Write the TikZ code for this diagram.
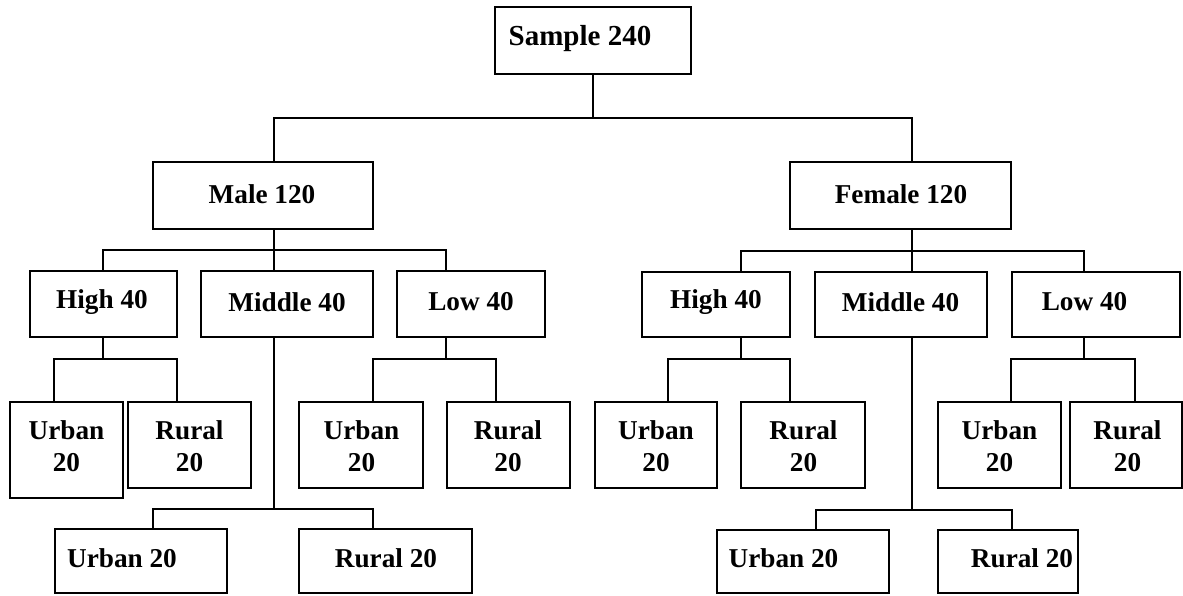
\documentclass[tikz,border=0pt]{standalone}
\usepackage{fontspec}
\setmainfont{Liberation Serif}
\tikzset{
  catbox/.style={draw, line width=0.9pt, inner sep=0pt},
  cattext/.style={align=center, inner sep=0pt, font=\fontsize{15.5}{18}\selectfont\bfseries},
  tie/.style={line width=0.7pt}
}
\begin{document}
\begin{tikzpicture}[x=0.02cm, y=-0.02cm]
\useasboundingbox (0,0) rectangle (1183,595);
% box from (#2,#3) to (#4,#5), tie line at x=#6, text at (#7,#8)
\newcommand{\catbox}[9]{
  \node[catbox, minimum width={(#4-#2)*0.02cm}, minimum height={(#5-#3)*0.02cm}]
    (#1) at ({(#2+#4)/2},{(#3+#5)/2}) {};
  \coordinate (#1-n) at (#6,#3);
  \coordinate (#1-s) at (#6,#5);
  \node[cattext] (#1-t) at (#7,#8) {#9};
}
% parent, left child, right child, height of the bus over the children
\newcommand{\fork}[4]{
  \draw[tie] (#2-n) -- ++(0,-#4) coordinate (#1-bus) -| (#3-n);
  \draw[tie] (#1-s) -- (#1-s |- #1-bus);
}

% top
\catbox{sample}{495}{7}{691}{74}{593}{580}{39}{\fontsize{16.5}{19}\selectfont Sample 240}
\catbox{male}{153}{162}{373}{229}{274}{262}{194}{Male 120}
\catbox{female}{790}{162}{1011}{229}{912}{901}{194}{Female 120}

% male side
\catbox{mhigh}{30}{271}{177}{337}{103}{102}{302}{High 40}
\catbox{mmid}{201}{271}{373}{337}{274}{287}{302}{Middle 40}
\catbox{mlow}{397}{271}{545}{337}{446}{471}{302}{Low 40}
\catbox{mhu}{10}{402}{123}{498}{54}{66.5}{446}{Urban\\20}
\catbox{mhr}{128}{402}{251}{488}{177}{189.5}{446}{Rural\\20}
\catbox{mlu}{299}{402}{423}{488}{373}{361.5}{446}{Urban\\20}
\catbox{mlr}{447}{402}{570}{488}{496}{508}{446}{Rural\\20}
\catbox{mmu}{55}{529}{227}{593}{153}{122}{558}{Urban 20}
\catbox{mmr}{299}{529}{472}{593}{373}{386}{558}{Rural 20}

% female side
\catbox{fhigh}{642}{272}{790}{337}{741}{716}{302}{High 40}
\catbox{fmid}{815}{272}{987}{337}{912}{900.5}{302}{Middle 40}
\catbox{flow}{1012}{272}{1180}{337}{1084}{1084.5}{302}{Low 40}
\catbox{fhu}{595}{402}{717}{488}{668}{656}{446}{Urban\\20}
\catbox{fhr}{741}{402}{865}{488}{790}{803.5}{446}{Rural\\20}
\catbox{flu}{938}{402}{1061}{488}{1011}{999.5}{446}{Urban\\20}
\catbox{flr}{1070}{402}{1182}{488}{1135}{1127.5}{446}{Rural\\20}
\catbox{fmu}{717}{530}{889}{593}{816}{783.5}{558}{Urban 20}
\catbox{fmr}{938}{530}{1078}{593}{1012}{1022}{558}{Rural 20}

% connectors
\fork{sample}{male}{female}{44}
\fork{male}{mhigh}{mlow}{21}
\fork{female}{fhigh}{flow}{21}
\draw[tie] (mmid-n) -- (mmid-n |- male-bus);
\draw[tie] (fmid-n) -- (fmid-n |- female-bus);
\fork{mhigh}{mhu}{mhr}{43}
\fork{mlow}{mlu}{mlr}{43}
\fork{mmid}{mmu}{mmr}{20}
\fork{fhigh}{fhu}{fhr}{43}
\fork{flow}{flu}{flr}{43}
\fork{fmid}{fmu}{fmr}{20}
\end{tikzpicture}
\end{document}
